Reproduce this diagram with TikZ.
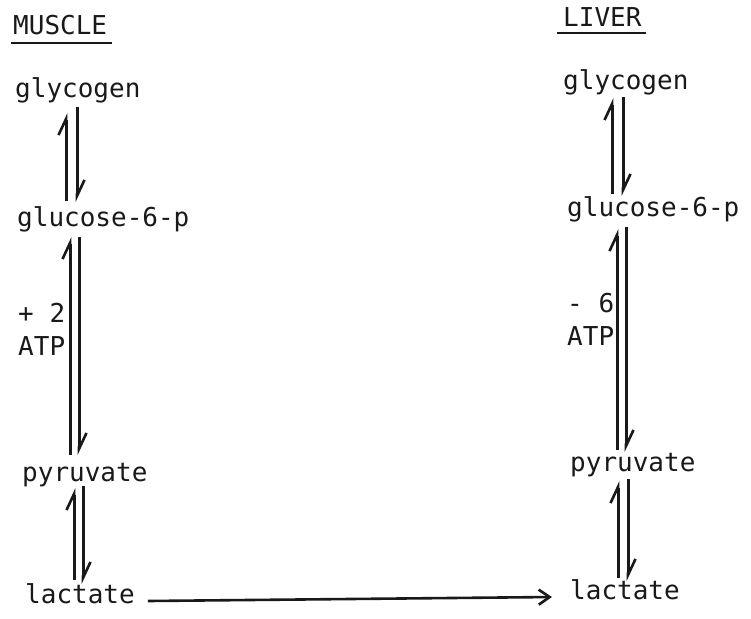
\documentclass[tikz,border=0pt]{standalone}
\usepackage{fontspec}
\setmonofont{DejaVu Sans Mono}
\usetikzlibrary{arrows.meta}
\definecolor{ink}{rgb}{0.1,0.1,0.1}
\begin{document}
\begin{tikzpicture}[x=1pt,y=-1pt,
  lbl/.style={anchor=base west,inner sep=0pt,text height=19pt,text depth=6pt,
    font=\ttfamily\fontsize{26}{28}\selectfont,text=ink},
  harp/.style={draw=ink,line width=3pt,-{Straight Barb[harpoon,length=16pt,width=15pt,line width=2.6pt]}},
  flow/.style={draw=ink,line width=2.6pt,-{Straight Barb[length=11pt,width=15pt,line width=2.6pt]}},
  uline/.style={draw=ink,line width=2.6pt}]
\useasboundingbox (0,0) rectangle (751,618);
% headers
\node[lbl] (mus) at (13,35) {MUSCLE};
\node[lbl] (liv) at (563,27) {LIVER};
\draw[uline] ([xshift=-2pt,yshift=-2pt]mus.south west) -- ([xshift=5pt,yshift=-2pt]mus.south east);
\draw[uline] ([xshift=-6pt,yshift=-6pt]liv.base west) -- ([xshift=4pt,yshift=-6pt]liv.base east);
% muscle column
\node[lbl] (lgly) at (15,97) {glycogen};
\node[lbl] (lglu) at (17,226) {glucose-6-p};
\node[lbl] (lpyr) at (22,481) {pyruvate};
\node[lbl] (llac) at (25,603) {lactate};
\node[lbl] (lp2) at (18,322) {+ 2};
\node[lbl] (latp) at (18,355) {ATP};
% liver column
\node[lbl] (rgly) at (563,89) {glycogen};
\node[lbl] (rglu) at (567,216) {glucose-6-p};
\node[lbl] (rpyr) at (570,471) {pyruvate};
\node[lbl] (rlac) at (570,599) {lactate};
\node[lbl] (rm6) at (567,312) {- 6};
\node[lbl] (ratp) at (567,345) {ATP};
% muscle harpoons
\draw[harp] ([xshift=49pt,yshift=6pt]lglu.north west) -- ([xshift=51pt,yshift=-10pt]lgly.south west);
\draw[harp] ([xshift=62pt,yshift=-4pt]lgly.south west) -- ([xshift=60pt,yshift=5pt]lglu.north west);
\draw[harp] ([xshift=48pt,yshift=7pt]lpyr.north west) -- ([xshift=53pt,yshift=-5pt]lglu.south west);
\draw[harp] ([xshift=62pt,yshift=-5pt]lglu.south west) -- ([xshift=57pt,yshift=7pt]lpyr.north west);
\draw[harp] ([xshift=49pt,yshift=4pt]llac.north west) -- ([xshift=52pt,yshift=-1pt]lpyr.south west);
\draw[harp] ([xshift=61pt,yshift=1pt]lpyr.south west) -- ([xshift=58pt,yshift=0pt]llac.north west);
% liver harpoons
\draw[harp] ([xshift=45pt,yshift=3pt]rglu.north west) -- ([xshift=49pt,yshift=-3pt]rgly.south west);
\draw[harp] ([xshift=60pt,yshift=-2pt]rgly.south west) -- ([xshift=56pt,yshift=1pt]rglu.north west);
\draw[harp] ([xshift=47pt,yshift=2pt]rpyr.north west) -- ([xshift=50pt,yshift=-7pt]rglu.south west);
\draw[harp] ([xshift=59pt,yshift=-5pt]rglu.south west) -- ([xshift=56pt,yshift=0pt]rpyr.north west);
\draw[harp] ([xshift=48pt,yshift=2pt]rlac.north west) -- ([xshift=48pt,yshift=-4pt]rpyr.south west);
\draw[harp] ([xshift=58pt,yshift=-2pt]rpyr.south west) -- ([xshift=58pt,yshift=-1pt]rlac.north west);
% transfer
\draw[flow] ([xshift=13pt,yshift=2pt]llac.base east) -- ([xshift=-18pt,yshift=2pt]rlac.base west);
\end{tikzpicture}
\end{document}
